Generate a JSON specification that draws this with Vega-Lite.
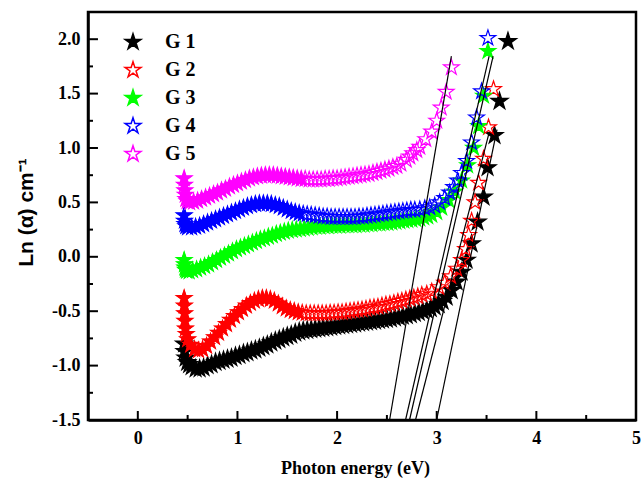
{
  "$schema": "https://vega.github.io/schema/vega-lite/v6.json",
  "autosize": {"type": "none"},
  "padding": {"left": 88, "top": 12, "right": 7, "bottom": 64},
  "width": 548,
  "height": 408,
  "background": "white",
  "config": {
    "view": {"stroke": "black", "strokeWidth": 2.5},
    "axis": {
      "grid": false,
      "ticks": false,
      "domainColor": "black",
      "domainWidth": 2.5,
      "labelColor": "black",
      "labelFont": "Liberation Serif",
      "labelFontSize": 18,
      "labelFontWeight": "bold",
      "titleColor": "black"
    }
  },
  "datasets": {
    "spectra": [
      {"g":"G 1","e":0.465,"a":-0.80},{"g":"G 1","e":0.47,"a":-0.87},{"g":"G 1","e":0.48,"a":-0.93},{"g":"G 1","e":0.495,"a":-0.97},
      {"g":"G 1","e":0.515,"a":-0.99},{"g":"G 1","e":0.54,"a":-1.01},{"g":"G 1","e":0.58,"a":-1.03},{"g":"G 1","e":0.62,"a":-1.03},
      {"g":"G 1","e":0.66,"a":-1.02},{"g":"G 1","e":0.70,"a":-1.00},{"g":"G 1","e":0.74,"a":-0.99},{"g":"G 1","e":0.78,"a":-0.97},
      {"g":"G 1","e":0.82,"a":-0.96},{"g":"G 1","e":0.86,"a":-0.95},{"g":"G 1","e":0.90,"a":-0.94},{"g":"G 1","e":0.94,"a":-0.93},
      {"g":"G 1","e":0.98,"a":-0.915},{"g":"G 1","e":1.02,"a":-0.905},{"g":"G 1","e":1.06,"a":-0.89},{"g":"G 1","e":1.10,"a":-0.88},
      {"g":"G 1","e":1.14,"a":-0.865},{"g":"G 1","e":1.18,"a":-0.855},{"g":"G 1","e":1.22,"a":-0.84},{"g":"G 1","e":1.26,"a":-0.825},
      {"g":"G 1","e":1.30,"a":-0.81},{"g":"G 1","e":1.34,"a":-0.79},{"g":"G 1","e":1.38,"a":-0.775},{"g":"G 1","e":1.42,"a":-0.76},
      {"g":"G 1","e":1.46,"a":-0.745},{"g":"G 1","e":1.50,"a":-0.73},{"g":"G 1","e":1.54,"a":-0.72},{"g":"G 1","e":1.58,"a":-0.70},
      {"g":"G 1","e":1.62,"a":-0.69},{"g":"G 1","e":1.66,"a":-0.68},{"g":"G 1","e":1.70,"a":-0.675},{"g":"G 1","e":1.74,"a":-0.67},
      {"g":"G 1","e":1.78,"a":-0.665},{"g":"G 1","e":1.82,"a":-0.66},{"g":"G 1","e":1.86,"a":-0.655},{"g":"G 1","e":1.90,"a":-0.65},
      {"g":"G 1","e":1.94,"a":-0.645},{"g":"G 1","e":1.98,"a":-0.64},{"g":"G 1","e":2.02,"a":-0.635},{"g":"G 1","e":2.06,"a":-0.63},
      {"g":"G 1","e":2.10,"a":-0.625},{"g":"G 1","e":2.14,"a":-0.62},{"g":"G 1","e":2.18,"a":-0.615},{"g":"G 1","e":2.22,"a":-0.61},
      {"g":"G 1","e":2.26,"a":-0.605},{"g":"G 1","e":2.30,"a":-0.60},{"g":"G 1","e":2.34,"a":-0.595},{"g":"G 1","e":2.38,"a":-0.59},
      {"g":"G 1","e":2.42,"a":-0.585},{"g":"G 1","e":2.46,"a":-0.58},{"g":"G 1","e":2.50,"a":-0.575},{"g":"G 1","e":2.54,"a":-0.57},
      {"g":"G 1","e":2.58,"a":-0.56},{"g":"G 1","e":2.62,"a":-0.555},{"g":"G 1","e":2.66,"a":-0.545},{"g":"G 1","e":2.70,"a":-0.54},
      {"g":"G 1","e":2.74,"a":-0.53},{"g":"G 1","e":2.78,"a":-0.52},{"g":"G 1","e":2.82,"a":-0.51},{"g":"G 1","e":2.86,"a":-0.50},
      {"g":"G 1","e":2.90,"a":-0.49},{"g":"G 1","e":2.94,"a":-0.475},{"g":"G 1","e":2.98,"a":-0.46},{"g":"G 1","e":3.02,"a":-0.44},
      {"g":"G 1","e":3.06,"a":-0.41},{"g":"G 1","e":3.10,"a":-0.37},{"g":"G 1","e":3.15,"a":-0.31},{"g":"G 1","e":3.20,"a":-0.23},
      {"g":"G 1","e":3.25,"a":-0.14},{"g":"G 1","e":3.30,"a":-0.03},{"g":"G 1","e":3.35,"a":0.12},{"g":"G 1","e":3.41,"a":0.32},
      {"g":"G 1","e":3.47,"a":0.55},{"g":"G 1","e":3.51,"a":0.82},{"g":"G 1","e":3.58,"a":1.115},{"g":"G 1","e":3.63,"a":1.43},
      {"g":"G 1","e":3.715,"a":1.98},

      {"g":"G 2","e":0.465,"a":-0.38},{"g":"G 2","e":0.467,"a":-0.45},{"g":"G 2","e":0.47,"a":-0.52},{"g":"G 2","e":0.473,"a":-0.59},
      {"g":"G 2","e":0.478,"a":-0.66},{"g":"G 2","e":0.486,"a":-0.71},{"g":"G 2","e":0.50,"a":-0.76},{"g":"G 2","e":0.53,"a":-0.81},
      {"g":"G 2","e":0.57,"a":-0.85},{"g":"G 2","e":0.61,"a":-0.86},{"g":"G 2","e":0.65,"a":-0.85},{"g":"G 2","e":0.69,"a":-0.82},
      {"g":"G 2","e":0.73,"a":-0.78},{"g":"G 2","e":0.77,"a":-0.74},{"g":"G 2","e":0.81,"a":-0.70},{"g":"G 2","e":0.85,"a":-0.66},
      {"g":"G 2","e":0.89,"a":-0.62},{"g":"G 2","e":0.93,"a":-0.58},{"g":"G 2","e":0.97,"a":-0.545},{"g":"G 2","e":1.01,"a":-0.51},
      {"g":"G 2","e":1.05,"a":-0.48},{"g":"G 2","e":1.09,"a":-0.45},{"g":"G 2","e":1.13,"a":-0.425},{"g":"G 2","e":1.17,"a":-0.405},
      {"g":"G 2","e":1.21,"a":-0.39},{"g":"G 2","e":1.25,"a":-0.38},{"g":"G 2","e":1.29,"a":-0.38},{"g":"G 2","e":1.33,"a":-0.39},
      {"g":"G 2","e":1.37,"a":-0.405},{"g":"G 2","e":1.41,"a":-0.43},{"g":"G 2","e":1.45,"a":-0.455},{"g":"G 2","e":1.49,"a":-0.475},
      {"g":"G 2","e":1.53,"a":-0.49},{"g":"G 2","e":1.57,"a":-0.50},{"g":"G 2","e":1.61,"a":-0.51},{"g":"G 2","e":1.65,"a":-0.515},
      {"g":"G 2","e":1.69,"a":-0.52},{"g":"G 2","e":1.73,"a":-0.52},{"g":"G 2","e":1.77,"a":-0.52},{"g":"G 2","e":1.81,"a":-0.52},
      {"g":"G 2","e":1.85,"a":-0.52},{"g":"G 2","e":1.89,"a":-0.52},{"g":"G 2","e":1.93,"a":-0.515},{"g":"G 2","e":1.97,"a":-0.515},
      {"g":"G 2","e":2.01,"a":-0.51},{"g":"G 2","e":2.05,"a":-0.51},{"g":"G 2","e":2.09,"a":-0.505},{"g":"G 2","e":2.13,"a":-0.50},
      {"g":"G 2","e":2.17,"a":-0.495},{"g":"G 2","e":2.21,"a":-0.49},{"g":"G 2","e":2.25,"a":-0.485},{"g":"G 2","e":2.29,"a":-0.48},
      {"g":"G 2","e":2.33,"a":-0.47},{"g":"G 2","e":2.37,"a":-0.465},{"g":"G 2","e":2.41,"a":-0.46},{"g":"G 2","e":2.45,"a":-0.45},
      {"g":"G 2","e":2.49,"a":-0.44},{"g":"G 2","e":2.53,"a":-0.435},{"g":"G 2","e":2.57,"a":-0.425},{"g":"G 2","e":2.61,"a":-0.415},
      {"g":"G 2","e":2.65,"a":-0.405},{"g":"G 2","e":2.69,"a":-0.395},{"g":"G 2","e":2.73,"a":-0.385},{"g":"G 2","e":2.77,"a":-0.375},
      {"g":"G 2","e":2.81,"a":-0.365},{"g":"G 2","e":2.85,"a":-0.35},{"g":"G 2","e":2.90,"a":-0.34},{"g":"G 2","e":2.95,"a":-0.32},
      {"g":"G 2","e":3.02,"a":-0.28},{"g":"G 2","e":3.08,"a":-0.24},{"g":"G 2","e":3.14,"a":-0.18},{"g":"G 2","e":3.20,"a":-0.11},
      {"g":"G 2","e":3.25,"a":-0.03},{"g":"G 2","e":3.29,"a":0.07},{"g":"G 2","e":3.32,"a":0.20},{"g":"G 2","e":3.35,"a":0.33},
      {"g":"G 2","e":3.385,"a":0.50},{"g":"G 2","e":3.42,"a":0.68},{"g":"G 2","e":3.47,"a":0.90},{"g":"G 2","e":3.52,"a":1.19},
      {"g":"G 2","e":3.57,"a":1.54},

      {"g":"G 3","e":0.465,"a":-0.03},{"g":"G 3","e":0.468,"a":-0.07},{"g":"G 3","e":0.472,"a":-0.10},{"g":"G 3","e":0.478,"a":-0.12},
      {"g":"G 3","e":0.49,"a":-0.13},{"g":"G 3","e":0.515,"a":-0.135},{"g":"G 3","e":0.55,"a":-0.125},{"g":"G 3","e":0.59,"a":-0.115},
      {"g":"G 3","e":0.63,"a":-0.10},{"g":"G 3","e":0.67,"a":-0.085},{"g":"G 3","e":0.71,"a":-0.07},{"g":"G 3","e":0.75,"a":-0.05},
      {"g":"G 3","e":0.79,"a":-0.03},{"g":"G 3","e":0.83,"a":-0.01},{"g":"G 3","e":0.87,"a":0.01},{"g":"G 3","e":0.91,"a":0.03},
      {"g":"G 3","e":0.95,"a":0.05},{"g":"G 3","e":0.99,"a":0.07},{"g":"G 3","e":1.03,"a":0.085},{"g":"G 3","e":1.07,"a":0.10},
      {"g":"G 3","e":1.11,"a":0.115},{"g":"G 3","e":1.15,"a":0.13},{"g":"G 3","e":1.19,"a":0.145},{"g":"G 3","e":1.23,"a":0.16},
      {"g":"G 3","e":1.27,"a":0.17},{"g":"G 3","e":1.31,"a":0.185},{"g":"G 3","e":1.35,"a":0.195},{"g":"G 3","e":1.39,"a":0.21},
      {"g":"G 3","e":1.43,"a":0.22},{"g":"G 3","e":1.47,"a":0.23},{"g":"G 3","e":1.51,"a":0.24},{"g":"G 3","e":1.55,"a":0.245},
      {"g":"G 3","e":1.59,"a":0.25},{"g":"G 3","e":1.63,"a":0.255},{"g":"G 3","e":1.67,"a":0.26},{"g":"G 3","e":1.71,"a":0.265},
      {"g":"G 3","e":1.75,"a":0.27},{"g":"G 3","e":1.79,"a":0.275},{"g":"G 3","e":1.83,"a":0.275},{"g":"G 3","e":1.87,"a":0.28},
      {"g":"G 3","e":1.91,"a":0.28},{"g":"G 3","e":1.95,"a":0.285},{"g":"G 3","e":1.99,"a":0.285},{"g":"G 3","e":2.03,"a":0.285},
      {"g":"G 3","e":2.07,"a":0.29},{"g":"G 3","e":2.11,"a":0.29},{"g":"G 3","e":2.15,"a":0.29},{"g":"G 3","e":2.19,"a":0.29},
      {"g":"G 3","e":2.23,"a":0.295},{"g":"G 3","e":2.27,"a":0.295},{"g":"G 3","e":2.31,"a":0.30},{"g":"G 3","e":2.35,"a":0.30},
      {"g":"G 3","e":2.39,"a":0.305},{"g":"G 3","e":2.43,"a":0.305},{"g":"G 3","e":2.47,"a":0.31},{"g":"G 3","e":2.51,"a":0.31},
      {"g":"G 3","e":2.55,"a":0.315},{"g":"G 3","e":2.59,"a":0.32},{"g":"G 3","e":2.63,"a":0.325},{"g":"G 3","e":2.67,"a":0.33},
      {"g":"G 3","e":2.71,"a":0.335},{"g":"G 3","e":2.75,"a":0.34},{"g":"G 3","e":2.79,"a":0.345},{"g":"G 3","e":2.83,"a":0.35},
      {"g":"G 3","e":2.87,"a":0.36},{"g":"G 3","e":2.91,"a":0.37},{"g":"G 3","e":2.95,"a":0.385},{"g":"G 3","e":3.00,"a":0.41},
      {"g":"G 3","e":3.05,"a":0.45},{"g":"G 3","e":3.12,"a":0.52},{"g":"G 3","e":3.18,"a":0.60},{"g":"G 3","e":3.25,"a":0.70},
      {"g":"G 3","e":3.31,"a":0.84},{"g":"G 3","e":3.37,"a":1.00},{"g":"G 3","e":3.42,"a":1.20},{"g":"G 3","e":3.47,"a":1.48},
      {"g":"G 3","e":3.514,"a":1.89},

      {"g":"G 4","e":0.465,"a":0.38},{"g":"G 4","e":0.468,"a":0.33},{"g":"G 4","e":0.473,"a":0.30},{"g":"G 4","e":0.482,"a":0.28},
      {"g":"G 4","e":0.50,"a":0.27},{"g":"G 4","e":0.54,"a":0.27},{"g":"G 4","e":0.58,"a":0.275},{"g":"G 4","e":0.62,"a":0.285},
      {"g":"G 4","e":0.66,"a":0.30},{"g":"G 4","e":0.70,"a":0.315},{"g":"G 4","e":0.74,"a":0.33},{"g":"G 4","e":0.78,"a":0.345},
      {"g":"G 4","e":0.82,"a":0.36},{"g":"G 4","e":0.86,"a":0.375},{"g":"G 4","e":0.90,"a":0.39},{"g":"G 4","e":0.94,"a":0.405},
      {"g":"G 4","e":0.98,"a":0.42},{"g":"G 4","e":1.02,"a":0.435},{"g":"G 4","e":1.06,"a":0.45},{"g":"G 4","e":1.10,"a":0.465},
      {"g":"G 4","e":1.14,"a":0.475},{"g":"G 4","e":1.18,"a":0.485},{"g":"G 4","e":1.22,"a":0.49},{"g":"G 4","e":1.26,"a":0.49},
      {"g":"G 4","e":1.30,"a":0.49},{"g":"G 4","e":1.34,"a":0.485},{"g":"G 4","e":1.38,"a":0.475},{"g":"G 4","e":1.42,"a":0.465},
      {"g":"G 4","e":1.46,"a":0.45},{"g":"G 4","e":1.50,"a":0.435},{"g":"G 4","e":1.54,"a":0.42},{"g":"G 4","e":1.58,"a":0.41},
      {"g":"G 4","e":1.62,"a":0.40},{"g":"G 4","e":1.66,"a":0.395},{"g":"G 4","e":1.70,"a":0.39},{"g":"G 4","e":1.74,"a":0.385},
      {"g":"G 4","e":1.78,"a":0.38},{"g":"G 4","e":1.82,"a":0.375},{"g":"G 4","e":1.86,"a":0.37},{"g":"G 4","e":1.90,"a":0.37},
      {"g":"G 4","e":1.94,"a":0.365},{"g":"G 4","e":1.98,"a":0.365},{"g":"G 4","e":2.02,"a":0.365},{"g":"G 4","e":2.06,"a":0.365},
      {"g":"G 4","e":2.10,"a":0.365},{"g":"G 4","e":2.14,"a":0.365},{"g":"G 4","e":2.18,"a":0.365},{"g":"G 4","e":2.22,"a":0.37},
      {"g":"G 4","e":2.26,"a":0.37},{"g":"G 4","e":2.30,"a":0.375},{"g":"G 4","e":2.34,"a":0.38},{"g":"G 4","e":2.38,"a":0.385},
      {"g":"G 4","e":2.42,"a":0.39},{"g":"G 4","e":2.46,"a":0.395},{"g":"G 4","e":2.50,"a":0.40},{"g":"G 4","e":2.54,"a":0.405},
      {"g":"G 4","e":2.58,"a":0.41},{"g":"G 4","e":2.62,"a":0.415},{"g":"G 4","e":2.66,"a":0.42},{"g":"G 4","e":2.70,"a":0.425},
      {"g":"G 4","e":2.74,"a":0.43},{"g":"G 4","e":2.78,"a":0.43},{"g":"G 4","e":2.83,"a":0.435},{"g":"G 4","e":2.88,"a":0.445},
      {"g":"G 4","e":2.93,"a":0.455},{"g":"G 4","e":2.98,"a":0.47},{"g":"G 4","e":3.03,"a":0.50},{"g":"G 4","e":3.08,"a":0.54},
      {"g":"G 4","e":3.13,"a":0.59},{"g":"G 4","e":3.17,"a":0.64},{"g":"G 4","e":3.21,"a":0.70},{"g":"G 4","e":3.25,"a":0.77},
      {"g":"G 4","e":3.30,"a":0.88},{"g":"G 4","e":3.35,"a":1.05},{"g":"G 4","e":3.40,"a":1.28},{"g":"G 4","e":3.45,"a":1.52},
      {"g":"G 4","e":3.514,"a":2.01},

      {"g":"G 5","e":0.465,"a":0.72},{"g":"G 5","e":0.468,"a":0.66},{"g":"G 5","e":0.472,"a":0.61},{"g":"G 5","e":0.476,"a":0.57},
      {"g":"G 5","e":0.482,"a":0.53},{"g":"G 5","e":0.495,"a":0.51},{"g":"G 5","e":0.52,"a":0.50},{"g":"G 5","e":0.56,"a":0.505},
      {"g":"G 5","e":0.60,"a":0.515},{"g":"G 5","e":0.64,"a":0.53},{"g":"G 5","e":0.68,"a":0.545},{"g":"G 5","e":0.72,"a":0.56},
      {"g":"G 5","e":0.76,"a":0.575},{"g":"G 5","e":0.80,"a":0.59},{"g":"G 5","e":0.84,"a":0.61},{"g":"G 5","e":0.88,"a":0.625},
      {"g":"G 5","e":0.92,"a":0.645},{"g":"G 5","e":0.96,"a":0.66},{"g":"G 5","e":1.00,"a":0.675},{"g":"G 5","e":1.04,"a":0.69},
      {"g":"G 5","e":1.08,"a":0.705},{"g":"G 5","e":1.12,"a":0.72},{"g":"G 5","e":1.16,"a":0.73},{"g":"G 5","e":1.20,"a":0.74},
      {"g":"G 5","e":1.24,"a":0.745},{"g":"G 5","e":1.28,"a":0.75},{"g":"G 5","e":1.32,"a":0.75},{"g":"G 5","e":1.36,"a":0.75},
      {"g":"G 5","e":1.40,"a":0.745},{"g":"G 5","e":1.44,"a":0.74},{"g":"G 5","e":1.48,"a":0.735},{"g":"G 5","e":1.52,"a":0.73},
      {"g":"G 5","e":1.56,"a":0.725},{"g":"G 5","e":1.60,"a":0.72},{"g":"G 5","e":1.64,"a":0.715},{"g":"G 5","e":1.68,"a":0.715},
      {"g":"G 5","e":1.72,"a":0.71},{"g":"G 5","e":1.76,"a":0.71},{"g":"G 5","e":1.80,"a":0.71},{"g":"G 5","e":1.84,"a":0.71},
      {"g":"G 5","e":1.88,"a":0.715},{"g":"G 5","e":1.92,"a":0.715},{"g":"G 5","e":1.96,"a":0.72},{"g":"G 5","e":2.00,"a":0.72},
      {"g":"G 5","e":2.04,"a":0.725},{"g":"G 5","e":2.08,"a":0.73},{"g":"G 5","e":2.12,"a":0.735},{"g":"G 5","e":2.16,"a":0.74},
      {"g":"G 5","e":2.20,"a":0.745},{"g":"G 5","e":2.24,"a":0.75},{"g":"G 5","e":2.28,"a":0.755},{"g":"G 5","e":2.32,"a":0.76},
      {"g":"G 5","e":2.36,"a":0.77},{"g":"G 5","e":2.40,"a":0.78},{"g":"G 5","e":2.44,"a":0.79},{"g":"G 5","e":2.48,"a":0.80},
      {"g":"G 5","e":2.52,"a":0.81},{"g":"G 5","e":2.56,"a":0.825},{"g":"G 5","e":2.60,"a":0.835},{"g":"G 5","e":2.64,"a":0.855},
      {"g":"G 5","e":2.695,"a":0.89},{"g":"G 5","e":2.73,"a":0.92},{"g":"G 5","e":2.76,"a":0.95},{"g":"G 5","e":2.80,"a":0.98},
      {"g":"G 5","e":2.83,"a":1.01},{"g":"G 5","e":2.89,"a":1.08},{"g":"G 5","e":2.95,"a":1.15},{"g":"G 5","e":3.00,"a":1.25},
      {"g":"G 5","e":3.045,"a":1.37},{"g":"G 5","e":3.095,"a":1.515},{"g":"G 5","e":3.147,"a":1.74}
    ],
    "fits": [
      {"g":"G 1","e":2.999,"a":-1.5,"e2":3.605,"a2":1.17},
      {"g":"G 2","e":2.787,"a":-1.5,"e2":3.52,"a2":1.12},
      {"g":"G 3","e":2.727,"a":-1.5,"e2":3.566,"a2":1.845},
      {"g":"G 4","e":2.687,"a":-1.5,"e2":3.526,"a2":1.845},
      {"g":"G 5","e":2.527,"a":-1.5,"e2":3.147,"a2":1.845}
    ],
    "xMajor": [{"v":0},{"v":1},{"v":2},{"v":3},{"v":4}],
    "xMinor": [{"v":0.5},{"v":1.5},{"v":2.5},{"v":3.5},{"v":4.5}],
    "yMajor": [{"v":-1},{"v":-0.5},{"v":0},{"v":0.5},{"v":1},{"v":1.5},{"v":2}],
    "yMinor": [{"v":-1.25},{"v":-0.75},{"v":-0.25},{"v":0.25},{"v":0.75},{"v":1.25},{"v":1.75}]
  },
  "layer": [
    {
      "data": {"name": "spectra"},
      "transform": [{"filter": "datum.g === 'G 1'"}],
      "mark": {
        "type": "point",
        "shape": "M0,-1L0.2245,-0.309L0.9511,-0.309L0.3633,0.118L0.5878,0.809L0,0.382L-0.5878,0.809L-0.3633,0.118L-0.9511,-0.309L-0.2245,-0.309Z",
        "size": 330,
        "filled": true,
        "opacity": 1,
        "fill": "black",
        "stroke": "black",
        "strokeWidth": 1.2
      },
      "encoding": {
        "x": {
          "field": "e",
          "type": "quantitative",
          "scale": {"domain": [-0.5, 5], "nice": false, "zero": false},
          "axis": {
            "title": "Photon energy (eV)",
            "titleFont": "Liberation Serif",
            "titleFontSize": 18,
            "titleFontWeight": "bold",
            "titleX": 267,
            "titleY": 48,
            "titleAlign": "center",
            "titleBaseline": "middle",
            "values": [0, 1, 2, 3, 4, 5],
            "format": "d",
            "labelPadding": 9,
            "labelFlush": false,
            "labelOverlap": false
          }
        },
        "y": {
          "field": "a",
          "type": "quantitative",
          "scale": {"domain": [-1.5, 2.25], "nice": false, "zero": false},
          "axis": {
            "title": "Ln (α) cm⁻¹",
            "titleFont": "Liberation Sans",
            "titleFontSize": 21,
            "titleFontWeight": "bold",
            "titleAngle": 270,
            "titleX": -62,
            "titleY": 200,
            "titleAlign": "center",
            "titleBaseline": "middle",
            "values": [-1.5, -1, -0.5, 0, 0.5, 1, 1.5, 2],
            "labelExpr": "(datum.value < 0 ? '-' : '') + format(abs(datum.value), '.1f')",
            "labelPadding": 8,
            "labelFlush": false,
            "labelOverlap": false
          }
        }
      }
    },
    {
      "data": {"name": "spectra"},
      "transform": [{"filter": "datum.g !== 'G 1' && datum.e < 1.65"}],
      "mark": {
        "type": "point",
        "shape": "M0,-1L0.2245,-0.309L0.9511,-0.309L0.3633,0.118L0.5878,0.809L0,0.382L-0.5878,0.809L-0.3633,0.118L-0.9511,-0.309L-0.2245,-0.309Z",
        "size": 330,
        "filled": true,
        "opacity": 1,
        "strokeWidth": 0
      },
      "encoding": {
        "x": {"field": "e", "type": "quantitative"},
        "y": {"field": "a", "type": "quantitative"},
        "color": {
          "field": "g",
          "type": "nominal",
          "scale": {
            "domain": ["G 2", "G 3", "G 4", "G 5"],
            "range": ["#ff0000", "#00ff00", "#0000ff", "#ff00ff"]
          },
          "legend": null
        }
      }
    },
    {
      "data": {"name": "spectra"},
      "mark": {
        "type": "point",
        "shape": "M0,-1L0.2245,-0.309L0.9511,-0.309L0.3633,0.118L0.5878,0.809L0,0.382L-0.5878,0.809L-0.3633,0.118L-0.9511,-0.309L-0.2245,-0.309Z",
        "size": 270,
        "filled": true,
        "opacity": 1,
        "strokeWidth": 1.2
      },
      "encoding": {
        "x": {"field": "e", "type": "quantitative"},
        "y": {"field": "a", "type": "quantitative"},
        "opacity": {
          "condition": {"test": "datum.g === 'G 1'", "value": 0},
          "value": 1
        },
        "fill": {
          "field": "g",
          "type": "nominal",
          "scale": {
            "domain": ["G 1", "G 2", "G 3", "G 4", "G 5"],
            "range": ["#000000", "transparent", "#00ff00", "transparent", "transparent"]
          },
          "legend": {
            "title": null,
            "orient": "none",
            "legendX": 35,
            "legendY": 20,
            "padding": 0,
            "symbolType": "M0,-1L0.2245,-0.309L0.9511,-0.309L0.3633,0.118L0.5878,0.809L0,0.382L-0.5878,0.809L-0.3633,0.118L-0.9511,-0.309L-0.2245,-0.309Z",
            "symbolSize": 280,
            "symbolStrokeWidth": 1.5,
            "symbolOpacity": 1,
            "labelFont": "Liberation Serif",
            "labelFontSize": 20,
            "labelFontWeight": "bold",
            "labelColor": "black",
            "labelOffset": 22,
            "rowPadding": 6
          }
        },
        "stroke": {
          "field": "g",
          "type": "nominal",
          "scale": {
            "domain": ["G 1", "G 2", "G 3", "G 4", "G 5"],
            "range": ["#000000", "#ff0000", "#00ff00", "#0000ff", "#ff00ff"]
          }
        }
      }
    },
    {
      "data": {"name": "fits"},
      "mark": {"type": "rule", "color": "black", "strokeWidth": 1.2},
      "encoding": {
        "x": {"field": "e", "type": "quantitative"},
        "y": {"field": "a", "type": "quantitative"},
        "x2": {"field": "e2"},
        "y2": {"field": "a2"}
      }
    },
    {
      "data": {"name": "xMajor"},
      "mark": {"type": "rule", "color": "black", "strokeWidth": 2},
      "encoding": {
        "x": {"field": "v", "type": "quantitative"},
        "y": {"datum": -1.5},
        "y2": {"datum": -1.417}
      }
    },
    {
      "data": {"name": "xMinor"},
      "mark": {"type": "rule", "color": "black", "strokeWidth": 2},
      "encoding": {
        "x": {"field": "v", "type": "quantitative"},
        "y": {"datum": -1.5},
        "y2": {"datum": -1.454}
      }
    },
    {
      "data": {"name": "yMajor"},
      "mark": {"type": "rule", "color": "black", "strokeWidth": 2},
      "encoding": {
        "y": {"field": "v", "type": "quantitative"},
        "x": {"datum": -0.5},
        "x2": {"datum": -0.4}
      }
    },
    {
      "data": {"name": "yMinor"},
      "mark": {"type": "rule", "color": "black", "strokeWidth": 2},
      "encoding": {
        "y": {"field": "v", "type": "quantitative"},
        "x": {"datum": -0.5},
        "x2": {"datum": -0.45}
      }
    }
  ]
}
